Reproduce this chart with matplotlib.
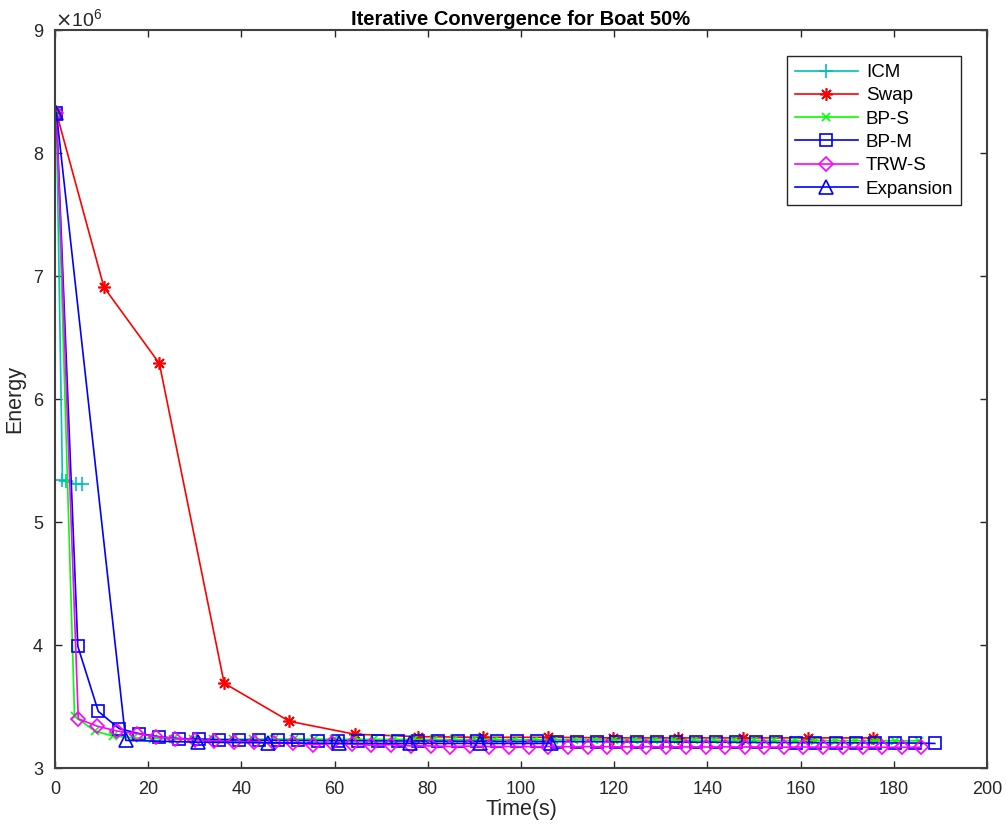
import matplotlib
matplotlib.use('Agg')
import matplotlib.pyplot as plt
from matplotlib.ticker import ScalarFormatter

plt.rcParams['font.family'] = ['Liberation Sans', 'DejaVu Sans']

# Data (energy in units of 1e6)
icm_t = [0.3, 1.6, 2.3, 4.5, 5.9]
icm_e = [8.33, 5.34, 5.33, 5.31, 5.31]

swap_t = [0.3, 10.5, 22.4, 36.3, 50.3, 64.3, 78.0, 91.9, 105.8, 119.7, 133.7,
          147.6, 161.6, 175.5]
swap_e = [8.33, 6.91, 6.29, 3.69, 3.38, 3.275, 3.255, 3.25, 3.25, 3.245, 3.245,
          3.245, 3.245, 3.245]

bps_t = [0.3, 4.2, 8.6, 12.5, 16.8, 21.1, 25.4, 29.7, 34.0, 38.3, 42.6, 46.9,
         51.2, 55.5, 59.8, 64.1, 68.4, 72.7, 77.0, 81.3, 85.6, 89.9, 94.2, 98.5,
         102.8, 107.1, 111.4, 115.7, 120.0, 124.3, 128.6, 132.9, 137.2, 141.5,
         145.8, 150.1, 154.4, 158.7, 163.0, 167.3, 171.6, 175.9, 180.2, 185.4]
bps_e = [8.33, 3.42, 3.30, 3.26, 3.245, 3.24, 3.235, 3.235, 3.235, 3.235, 3.235,
         3.235, 3.235, 3.235, 3.234, 3.234, 3.233, 3.233, 3.233, 3.232, 3.232,
         3.232, 3.231, 3.231, 3.230, 3.230, 3.229, 3.229, 3.228, 3.228, 3.227,
         3.227, 3.226, 3.226, 3.225, 3.225, 3.224, 3.224, 3.223, 3.223, 3.222,
         3.222, 3.221, 3.221]

bpm_t = [0.3, 4.9, 9.3, 13.8, 18.1, 22.3, 26.6, 30.9, 35.1, 39.4, 43.7, 47.9,
         52.2, 56.5, 60.8, 65.0, 69.3, 73.6, 77.8, 82.1, 86.4, 90.6, 94.9, 99.2,
         103.5, 107.7, 112.0, 116.3, 120.5, 124.8, 129.1, 133.3, 137.6, 141.9,
         146.2, 150.4, 154.7, 159.0, 163.2, 167.5, 171.8, 176.0, 180.3, 184.6,
         188.8]
bpm_e = [8.33, 3.99, 3.46, 3.32, 3.28, 3.255, 3.24, 3.235, 3.23, 3.228, 3.226,
         3.225, 3.224, 3.223, 3.222, 3.222, 3.221, 3.220, 3.220, 3.219, 3.218,
         3.218, 3.217, 3.216, 3.216, 3.215, 3.214, 3.214, 3.213, 3.212, 3.212,
         3.211, 3.210, 3.210, 3.209, 3.208, 3.208, 3.207, 3.206, 3.206, 3.205,
         3.204, 3.204, 3.203, 3.200]

trws_t = [0.3, 5.0, 9.1, 13.4, 17.5, 21.7, 25.8, 30.0, 34.2, 38.5, 42.7, 46.9,
          51.1, 55.3, 59.5, 63.7, 67.9, 72.2, 76.4, 80.6, 84.8, 89.0, 93.2, 97.4,
          101.7, 105.9, 110.1, 114.3, 118.5, 122.7, 126.9, 131.1, 135.4, 139.6,
          143.8, 148.0, 152.2, 156.4, 160.6, 164.8, 169.1, 173.3, 177.5, 181.7,
          185.9]
trws_e = [8.33, 3.40, 3.34, 3.30, 3.28, 3.255, 3.24, 3.23, 3.22, 3.21, 3.215,
          3.20, 3.205, 3.19, 3.20, 3.195, 3.185, 3.19, 3.18, 3.18, 3.175, 3.178,
          3.175, 3.175, 3.174, 3.175, 3.173, 3.174, 3.173, 3.172, 3.173, 3.172,
          3.172, 3.171, 3.172, 3.171, 3.171, 3.170, 3.171, 3.170, 3.170, 3.170,
          3.169, 3.169, 3.169]

exp_t = [0.3, 15.2, 30.6, 45.8, 61.0, 76.2, 91.3, 106.4]
exp_e = [8.33, 3.225, 3.21, 3.205, 3.20, 3.20, 3.20, 3.20]

# asterisk marker like MATLAB's '*'
asterisk = (8, 2, 0)

series = [
    ('ICM', icm_t, icm_e, 'c', '+', 10),
    ('Swap', swap_t, swap_e, 'r', asterisk, 9),
    ('BP-S', bps_t, bps_e, 'lime', 'x', 6),
    ('BP-M', bpm_t, bpm_e, 'b', 's', 8.5),
    ('TRW-S', trws_t, trws_e, 'magenta', 'D', 7.5),
    ('Expansion', exp_t, exp_e, 'b', '^', 9.5),
]

fig = plt.figure(figsize=(10.07, 8.38), dpi=100)
ax = fig.add_axes([0.0546, 0.0835, 0.9255, 0.8805])

for name, t, e, col, mk, ms in series:
    ax.plot(t, [v * 1e6 for v in e], color=col, marker=mk, markersize=ms,
            markerfacecolor='none', markeredgecolor=col, markeredgewidth=1.2,
            linewidth=1.2, label=name)

ax.set_xlim(0, 200)
ax.set_ylim(3e6, 9e6)
ax.set_xticks(range(0, 201, 20))
ax.set_yticks([v * 1e6 for v in range(3, 10)])

fmt = ScalarFormatter(useMathText=True)
fmt.set_powerlimits((0, 0))
ax.yaxis.set_major_formatter(fmt)
ax.yaxis.get_offset_text().set_fontsize(14)

ax.tick_params(direction='in', length=5, width=1.0, colors='#262626',
               labelsize=13, top=True, right=True)
ax.tick_params(axis='x', pad=9)
ax.tick_params(axis='y', pad=8)
for sp in ax.spines.values():
    sp.set_linewidth(1.5)
    sp.set_color('#404040')

ax.set_xlabel('Time(s)', fontsize=15.5, color='#262626', labelpad=1)
ax.set_ylabel('Energy', fontsize=15.5, color='#262626', labelpad=5)
ax.set_title('Iterative Convergence for Boat 50%', fontsize=14.5,
             fontweight='bold', pad=4)

leg = ax.legend(loc='upper right', bbox_to_anchor=(0.978, 0.972), fontsize=13.5,
                fancybox=False, edgecolor='#262626', framealpha=1,
                handlelength=3.4, borderpad=0.4, labelspacing=0.33,
                handletextpad=0.4, borderaxespad=0.3)
leg.get_frame().set_linewidth(1.0)

fig.savefig('out.png', dpi=100)
